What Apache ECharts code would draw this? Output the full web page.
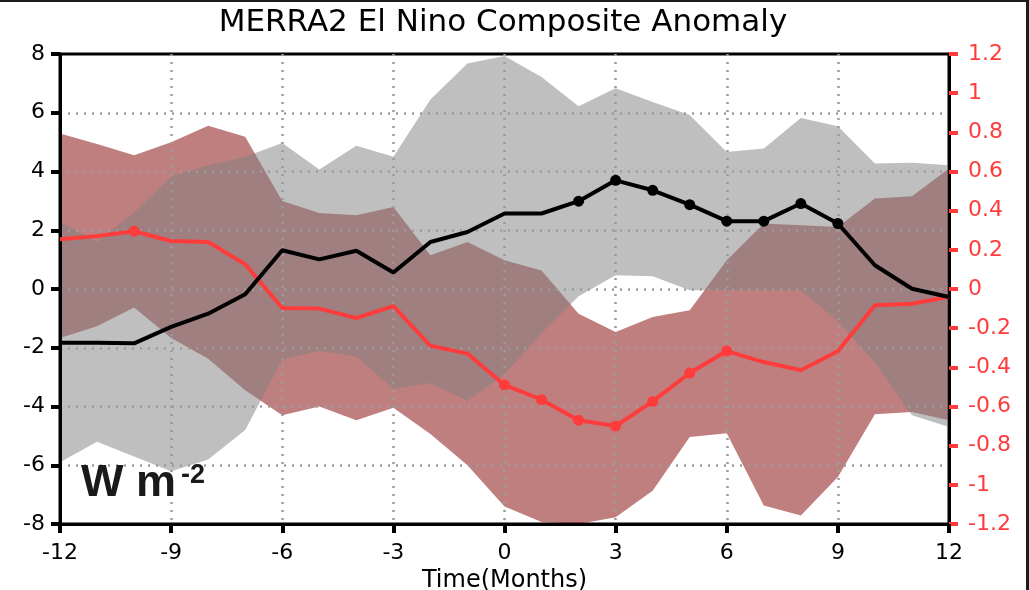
<!DOCTYPE html>
<html>
<head>
<meta charset="utf-8">
<script src="https://cdn.jsdelivr.net/npm/echarts@6/dist/echarts.min.js"></script>
<style>
  html, body { margin: 0; padding: 0; background: #1c1c1c; width: 1029px; height: 590px; overflow: hidden; }
  #chart { position: absolute; left: 0; top: 2px; width: 1026px; height: 588px; background: #ffffff; }
</style>
</head>
<body>
<div id="chart"></div>
<script>
// ---- data ----
const months = [-12,-11,-10,-9,-8,-7,-6,-5,-4,-3,-2,-1,0,1,2,3,4,5,6,7,8,9,10,11,12];
// black line (left axis, W m-2)
const blackLine = [-1.83,-1.83,-1.85,-1.29,-0.84,-0.18,1.32,1.01,1.30,0.56,1.60,1.94,2.57,2.57,2.99,3.70,3.36,2.87,2.31,2.31,2.91,2.23,0.81,0.01,-0.27];
const grayUpper = [2.28,1.60,2.60,3.82,4.21,4.50,4.97,4.07,4.88,4.50,6.45,7.68,7.93,7.22,6.22,6.83,6.37,5.92,4.66,4.78,5.82,5.54,4.27,4.30,4.21];
const grayLower = [-5.90,-5.20,-5.70,-6.20,-5.80,-4.80,-2.40,-2.10,-2.30,-3.40,-3.20,-3.80,-2.90,-1.50,-0.25,0.47,0.43,-0.04,-0.04,-0.04,-0.05,-1.10,-2.50,-4.30,-4.70];
const blackMarked = [2,3,4,5,6,7,8,9];
// red line (right axis)
const redLine = [0.254,0.270,0.295,0.245,0.240,0.126,-0.097,-0.100,-0.148,-0.087,-0.290,-0.330,-0.490,-0.565,-0.670,-0.700,-0.574,-0.429,-0.317,-0.373,-0.415,-0.318,-0.083,-0.075,-0.040];
const redUpper = [0.794,0.740,0.683,0.750,0.833,0.777,0.450,0.388,0.376,0.419,0.172,0.240,0.147,0.095,-0.126,-0.220,-0.143,-0.109,0.147,0.334,0.325,0.317,0.462,0.473,0.615];
const redLower = [-0.250,-0.190,-0.095,-0.250,-0.356,-0.517,-0.645,-0.600,-0.670,-0.606,-0.740,-0.900,-1.110,-1.190,-1.200,-1.165,-1.030,-0.756,-0.736,-1.105,-1.156,-0.960,-0.640,-0.628,-0.670];
const redMarked = [-10,0,1,2,3,4,5,6];
// axis ticks
const xTicks = { min: -12, max: 12, step: 3 };
const yLeftTicks = { min: -8, max: 8, step: 2 };
const yRightTicks = { min: -1.2, max: 1.2, step: 0.2 };

const titleText = 'MERRA2 El Nino Composite Anomaly';
const xName = 'Time(Months)';

const RED = '#fe3c3c';
const FONT = 'DejaVu Sans';

function band(upper, lower, yIdx, fill, z) {
  return {
    type: 'custom',
    yAxisIndex: yIdx,
    z: z,
    silent: true,
    clip: true,
    data: months.map((m, i) => [m, upper[i], lower[i]]),
    encode: { x: 0, y: [1, 2] },
    renderItem: function (params, api) {
      if (params.dataIndex !== 0) return null;
      const pts = [];
      for (let i = 0; i < months.length; i++) pts.push(api.coord([months[i], upper[i]]));
      for (let i = months.length - 1; i >= 0; i--) pts.push(api.coord([months[i], lower[i]]));
      return { type: 'polygon', shape: { points: pts }, style: { fill: fill } };
    }
  };
}

function lineSeries(vals, marked, yIdx, color, z) {
  return {
    type: 'line',
    yAxisIndex: yIdx,
    z: z,
    silent: true,
    showSymbol: true,
    symbolSize: 11,
    data: months.map((m, i) => ({ value: [m, vals[i]], symbol: marked.includes(m) ? 'circle' : 'none' })),
    lineStyle: { color: color, width: 4 },
    itemStyle: { color: color, borderWidth: 0 },
    animation: false
  };
}

const chart = echarts.init(document.getElementById('chart'), null, { renderer: 'canvas' });
const splitStyle = { show: true, showMinLine: false, showMaxLine: false, lineStyle: { type: [2, 6], color: '#9c9c9c', width: 2.5 } };

chart.setOption({
  animation: false,
  backgroundColor: '#ffffff',
  grid: { left: 60, right: 77, top: 52, bottom: 66, containLabel: false, outerBoundsMode: 'none',
          show: true, borderColor: '#000', borderWidth: 3, backgroundColor: 'transparent' },
  graphic: [
    { type: 'text', x: 503, y: 21, z: 10, style: { text: titleText, font: '31px "DejaVu Sans"', fill: '#000', textAlign: 'center', textVerticalAlign: 'middle' } },
    { type: 'text', x: 81, y: 482, z: 10, style: { text: 'W m', font: 'bold 45px "Liberation Sans"', fill: '#1a1a1a', textAlign: 'left', textVerticalAlign: 'middle' } },
    { type: 'text', x: 181, y: 474, z: 10, style: { text: '-2', font: 'bold 27px "Liberation Sans"', fill: '#1a1a1a', textAlign: 'left', textVerticalAlign: 'middle' } }
  ],
  xAxis: {
    type: 'value', min: xTicks.min, max: xTicks.max, interval: xTicks.step, z: 3,
    name: xName, nameLocation: 'middle', nameGap: 36,
    nameTextStyle: { fontFamily: FONT, fontSize: 24, color: '#000' },
    axisLine: { show: true, onZero: false, lineStyle: { color: '#000', width: 3 } },
    axisTick: { show: true, length: 9, lineStyle: { color: '#000', width: 4 } },
    axisLabel: { fontFamily: FONT, fontSize: 22, color: '#000', margin: 18 },
    splitLine: splitStyle
  },
  yAxis: [
    {
      type: 'value', min: yLeftTicks.min, max: yLeftTicks.max, interval: yLeftTicks.step, position: 'left', z: 3,
      axisLine: { show: true, onZero: false, lineStyle: { color: '#000', width: 3 } },
      axisTick: { show: true, length: 9, lineStyle: { color: '#000', width: 4 } },
      axisLabel: { fontFamily: FONT, fontSize: 22, color: '#000', margin: 15 },
      splitLine: splitStyle
    },
    {
      type: 'value', min: yRightTicks.min, max: yRightTicks.max, interval: yRightTicks.step, position: 'right', z: 3,
      axisLine: { show: true, onZero: false, lineStyle: { color: '#000', width: 3 } },
      axisTick: { show: true, length: 9, lineStyle: { color: RED, width: 4 } },
      axisLabel: { fontFamily: FONT, fontSize: 22, color: RED, margin: 19,
        formatter: v => String(Math.round(v * 10) / 10) },
      splitLine: { show: false }
    }
  ],
  series: [
    band(redUpper, redLower, 1, 'rgba(128,0,0,0.5)', 1),
    band(grayUpper, grayLower, 0, 'rgba(128,128,128,0.5)', 1),
    lineSeries(redLine, redMarked, 1, RED, 5),
    lineSeries(blackLine, blackMarked, 0, '#000', 6)
  ]
});
</script>
</body>
</html>
